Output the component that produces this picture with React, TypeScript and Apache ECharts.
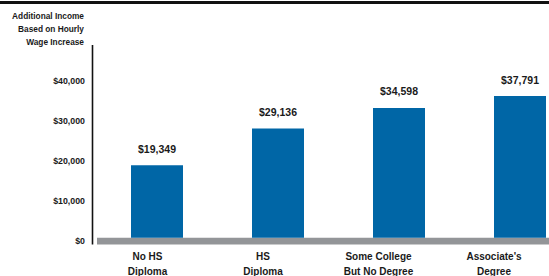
import React, { useEffect, useRef } from "react";
import * as echarts from "echarts";

const categories: string[] = ["No HS\nDiploma", "HS\nDiploma", "Some College\nBut No Degree", "Associate's\nDegree"];
const incomeValues: number[] = [19349, 29136, 34598, 37791];
const yTicks: number[] = [0, 10000, 20000, 30000, 40000];
const titleLines: string[] = ["Additional Income", "Based on Hourly", "Wage Increase"];

const FONT = "'Liberation Sans', Arial, Helvetica, sans-serif";
const fmt = (v: number) => "$" + v.toLocaleString("en-US");

export default function App() {
  const ref = useRef<HTMLDivElement>(null);
  useEffect(() => {
    if (!ref.current) return;
    const chart = echarts.init(ref.current, undefined, { renderer: "svg" });
    chart.setOption({
      animation: false,
      backgroundColor: "#ffffff",
      grid: [
        { left: 157, width: 363, top: 45, height: 192.7, outerBoundsMode: "none", containLabel: false },
        { left: 92.5, width: 10, top: 81, height: 160, outerBoundsMode: "none", containLabel: false },
        { left: 147.5, width: 346.5, top: 45, height: 199.5, outerBoundsMode: "none", containLabel: false },
      ],
      xAxis: [
        {
          gridIndex: 0, type: "category", data: categories, boundaryGap: false,
          axisLine: { show: false }, axisTick: { show: false }, axisLabel: { show: false },
        },
        { gridIndex: 1, type: "value", show: false },
        {
          gridIndex: 2, type: "category", data: categories, boundaryGap: false,
          axisLine: { show: false }, axisTick: { show: false },
          axisLabel: {
            interval: 0, margin: 4, color: "#1a1a1a", fontWeight: "bold",
            fontSize: 10, lineHeight: 15, fontFamily: FONT, align: "center",
          },
        },
      ],
      yAxis: [
        { gridIndex: 0, type: "value", min: 0, max: 51400, show: false },
        {
          gridIndex: 1, type: "value", min: yTicks[0], max: yTicks[yTicks.length - 1], interval: 10000,
          axisLine: { show: false }, axisTick: { show: false }, splitLine: { show: false },
          axisLabel: {
            margin: 7.5, color: "#1a1a1a", fontWeight: "bold", fontSize: 8.8, fontFamily: FONT,
            formatter: (v: number) => fmt(v),
          },
        },
        { gridIndex: 2, type: "value", show: false },
      ],
      graphic: [
        { type: "rect", shape: { x: 0, y: 1, width: 549, height: 3 }, style: { fill: "#111111" } },
        { type: "rect", shape: { x: 97, y: 237.7, width: 452, height: 6.8 }, style: { fill: "#939598" }, z: 1 },
        { type: "line", shape: { x1: 92.5, y1: 45, x2: 92.5, y2: 244.5 }, style: { stroke: "#111111", lineWidth: 1.6 } },
        {
          type: "text", x: 84, y: 10,
          style: {
            text: titleLines.join("\n"), textAlign: "right", textVerticalAlign: "top",
            fill: "#1a1a1a", font: `bold 8.3px ${FONT}`, lineHeight: 12.7,
          },
        },
      ],
      series: [
        {
          type: "bar", xAxisIndex: 0, yAxisIndex: 0, data: incomeValues, barWidth: 52,
          itemStyle: { color: "#0066A6" }, z: 3,
          label: {
            show: true, position: "top", distance: 11, color: "#1a1a1a", fontWeight: "bold",
            fontSize: 10.5, fontFamily: FONT, formatter: (p: any) => fmt(p.value),
          },
        },
      ],
    });
    return () => chart.dispose();
  }, []);
  return <div ref={ref} style={{ position: "absolute", left: 0, top: 0, width: 549, height: 276 }} />;
}
